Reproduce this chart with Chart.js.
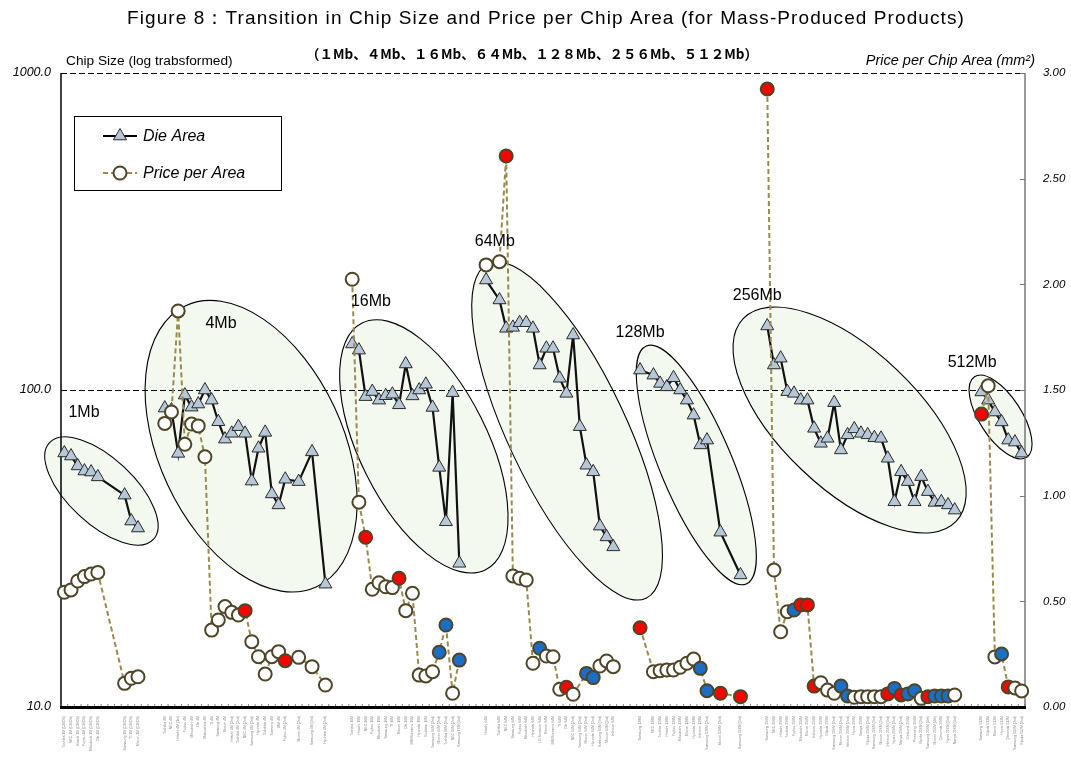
<!DOCTYPE html>
<html><head><meta charset="utf-8">
<script src="https://cdn.jsdelivr.net/npm/chart.js@4.4.0/dist/chart.umd.min.js"></script>
<style>html,body{margin:0;padding:0;background:#fff;}#wrap{width:1071px;height:769px;}</style>
</head><body><div id="wrap"><canvas id="c" width="1071" height="769"></canvas></div>
<script>
// ---------------- DATA ----------------
const categories = [
 // 1Mb (0-11)
 'Toshiba 1M (CMOS)','NEC 1M (CMOS)','Hitachi 1M (CMOS)','Fujitsu 1M (CMOS)','Mitsubishi 1M (CMOS)','Oki 1M (CMOS)','','','','Samsung 1M (CMOS)','TI 1M (CMOS)','Micron 1M (CMOS)',
 '','','',
 // 4Mb (15-39)
 'Toshiba 4M','NEC 4M','Hitachi 4M (1st)','Fujitsu 4M','Mitsubishi 4M','Oki 4M','Matsushita 4M','TI 4M','Samsung 4M','Micron 4M','Hitachi 4M (2nd)','Toshiba 4M (2nd)','NEC 4M (2nd)','Samsung 4M (2nd)','Hyundai 4M','Goldstar 4M','Siemens 4M','IBM 4M','Fujitsu 4M (2nd)','','Micron 4M (2nd)','','Samsung 4M (3rd)','','Hyundai 4M (2nd)',
 '','','',
 // 16Mb (43-59)
 'Toshiba 16M','Hitachi 16M','NEC 16M','Fujitsu 16M','Mitsubishi 16M','Samsung 16M','TI 16M','Micron 16M','Oki 16M','IBM/Siemens 16M','Hyundai 16M','Goldstar 16M','Samsung 16M (2nd)','Micron 16M (2nd)','Toshiba 16M (2nd)','NEC 16M (2nd)','Samsung 16M (3rd)',
 '','','',
 // 64Mb (63-82)
 'Hitachi 64M','','Toshiba 64M','NEC 64M','Samsung 64M','Fujitsu 64M','Mitsubishi 64M','Hyundai 64M','LG Semicon 64M','Micron 64M','IBM/Siemens 64M','TI 64M','Oki 64M','NEC 64M (2nd)','Samsung 64M (2nd)','Micron 64M (2nd)','Hyundai 64M (2nd)','Samsung 64M (3rd)','Micron 64M (3rd)','Infineon 64M',
 '','','',
 // 128Mb (86-101)
 'Samsung 128M','','NEC 128M','Toshiba 128M','Hitachi 128M','Fujitsu 128M','Mitsubishi 128M','Micron 128M','Hyundai 128M','Infineon 128M','Samsung 128M (2nd)','','Micron 128M (2nd)','','','Samsung 128M (3rd)',
 '','','',
 // 256Mb (105-133)
 'Samsung 256M','NEC 256M','Hitachi 256M','Toshiba 256M','Fujitsu 256M','Mitsubishi 256M','Micron 256M','Infineon 256M','Hyundai 256M','Elpida 256M','Samsung 256M (2nd)','Micron 256M (2nd)','Infineon 256M (2nd)','Hynix 256M','Nanya 256M','Elpida 256M (2nd)','Samsung 256M (3rd)','Micron 256M (3rd)','Infineon 256M (3rd)','Hynix 256M (2nd)','Nanya 256M (2nd)','Winbond 256M','Powerchip 256M','Elpida 256M (3rd)','Samsung 256M (4th)','Micron 256M (4th)','Qimonda 256M','Hynix 256M (3rd)','Nanya 256M (3rd)',
 '','','',
 // 512Mb (137-143)
 'Samsung 512M','Elpida 512M','Micron 512M','Hynix 512M','Qimonda 512M','Samsung 512M (2nd)','Elpida 512M (2nd)'
];

// Die area (mm2, log axis)
const dieArea = [
 63.3, 61.9, 57.6, 55.5, 55.1, 53.2, null, null, null, 46.6, 38.6, 36.7,
 null, null, null,
 87.7, 86.5, 63.1, 96.4, 88.3, 90.3, 100, 92.9, 79.4, 70.0, 73.0, 76.6, 73.0, 51.6, 65.5, 73.5, 47.0, 43.4, 52.3, null, 51.4, null, 63.8, null, 24.4,
 null, null, null,
 139.7, 133.6, 95.3, 98.9, 92.9, 95.9, 97.0, 89.8, 120.8, 95.8, 100, 104.2, 88.1, 57.0, 38.4, 98.1, 28.4,
 null, null, null,
 222.3, null, 192.3, 156.5, 157.6, 163.0, 163.0, 156.5, 119.9, 135.4, 135.4, 108.9, 97.6, 149.1, 76.6, 57.9, 55.2, 37.2, 34.4, 32.0,
 null, null, null,
 115.6, null, 111.4, 104.9, 102.3, 109.3, 100, 92.9, 83.3, 67.1, 69.5, null, 35.6, null, null, 26.1,
 null, null, null,
 159.2, 119.9, 126.0, 98.8, 97.6, 92.9, 92.9, 75.7, 67.9, 70.4, 91.2, 64.7, 72.2, 75.4, 73.0, 72.2, 70.7, 70.4, 60.9, 44.4, 55.2, 51.4, 44.4, 53.3, 47.8, 44.2, 44.4, 43.4, 41.8,
 null, null, null,
 98.6, 92.9, 85.2, 79.3, 69.5, 68.5, 63.2
];

// Price per chip area (right axis)
const pricePerArea = [
 0.543, 0.554, 0.596, 0.617, 0.629, 0.637, null, null, null, 0.112, 0.136, 0.143,
 null, null, null,
 1.342, 1.396, 1.874, 1.243, 1.339, 1.330, 1.184, 0.364, 0.412, 0.475, 0.448, 0.435, 0.456, 0.309, 0.238, 0.156, 0.238, 0.262, 0.219, null, 0.235, null, 0.191, null, 0.104,
 null, null, null,
 2.024, 0.969, 0.803, 0.557, 0.588, 0.569, 0.565, 0.609, 0.456, 0.538, 0.151, 0.147, 0.167, 0.259, 0.388, 0.065, 0.222,
 null, null, null,
 2.092, null, 2.107, 2.607, 0.620, 0.609, 0.601, 0.207, 0.278, 0.241, 0.238, 0.084, 0.093, 0.060, null, 0.159, 0.139, 0.194, 0.218, 0.191,
 null, null, null,
 0.375, null, 0.167, 0.172, 0.175, 0.175, 0.188, 0.207, 0.227, 0.183, 0.077, null, 0.065, null, null, 0.049,
 null, null, null,
 2.924, 0.648, 0.356, 0.451, 0.459, 0.483, 0.483, 0.099, 0.115, 0.080, 0.065, 0.099, 0.052, 0.046, 0.049, 0.049, 0.049, 0.049, 0.062, 0.088, 0.057, 0.062, 0.077, 0.041, 0.049, 0.052, 0.052, 0.052, 0.057,
 null, null, null,
 1.386, 1.520, 0.237, 0.251, 0.095, 0.090, 0.076
];

// highlighted price points (category indices)
const redPoints  = [27,33,45,50,66,75,86,98,101,105,110,111,112,123,125,129,137,141];
const bluePoints = [56,57,59,71,78,79,95,96,109,116,117,124,126,127,130,131,132,140];

// generations (category index ranges)
const generations = ['1Mb','4Mb','16Mb','64Mb','128Mb','256Mb','512Mb'];
const genFirst = [0,15,43,63,86,105,137];
const genLast  = [11,39,59,82,101,133,143];

const leftTicks = [10, 100, 1000];

// ---------------- ANNOTATION LAYOUT ----------------
const ellipseShapes = [ // centre in data coords, semi-axes px, rotation deg
 {ci:5.54, cv:48.0, a:71, b:33, rot:43},
 {ci:27.9, cv:66.5, a:155, b:92, rot:65},
 {ci:53.7, cv:66.4, a:138, b:64, rot:63.4},
 {ci:75.1, cv:74.3, a:185, b:59, rot:64.7},
 {ci:94.4, cv:58.0, a:129, b:36, rot:67.2},
 {ci:117.3, cv:80.4, a:147, b:69, rot:43.6},
 {ci:139.85, cv:82.2, a:48, b:21, rot:57.1}
];
const genLabelPos = [
 {i:2.94, v:84.6},{i:23.4, v:161.5},{i:45.8, v:189.5},{i:64.3, v:293},{i:86.0, v:151.3},{i:103.5, v:197.9},{i:135.6, v:121.7}
];

const FONT = '"Liberation Sans", Arial, sans-serif';
function genOf(i){ for(let g=0;g<genFirst.length;g++){ if(i>=genFirst[g]&&i<=genLast[g]) return g;} return -1; }
function sameGen(ctx){ return genOf(ctx.p0DataIndex)===genOf(ctx.p1DataIndex); }
function isGap(ctx){ return ctx.p1DataIndex-ctx.p0DataIndex>1; }

const decor = {
 id:'decor',
 beforeDatasetsDraw(chart){
  const {ctx, chartArea:ca, scales} = chart; const x=scales.x, y=scales.y;
  ctx.save();
  ellipseShapes.forEach(e=>{
   const cx=x.getPixelForValue(e.ci), cy=y.getPixelForValue(e.cv);
   ctx.beginPath(); ctx.ellipse(cx,cy,e.a,e.b,e.rot*Math.PI/180,0,Math.PI*2);
   ctx.fillStyle='#f3f9ee'; ctx.fill(); ctx.lineWidth=1.1; ctx.strokeStyle='#000'; ctx.stroke();
  });
  ctx.setLineDash([6,3]); ctx.lineWidth=1; ctx.strokeStyle='#000';
  [100,1000].forEach(v=>{ const py=Math.round(y.getPixelForValue(v))+0.5; ctx.beginPath(); ctx.moveTo(ca.left,py); ctx.lineTo(ca.right,py); ctx.stroke(); });
  ctx.setLineDash([]);
  ctx.strokeStyle='#000'; ctx.lineWidth=1.5;
  ctx.beginPath(); ctx.moveTo(ca.left,ca.top); ctx.lineTo(ca.left,ca.bottom); ctx.stroke();
  ctx.strokeStyle='#777'; ctx.lineWidth=1.5;
  ctx.beginPath(); ctx.moveTo(ca.right,ca.top); ctx.lineTo(ca.right,ca.bottom); ctx.stroke();
  const y2=scales.y2;
  ctx.lineWidth=1;
  for(let v=0; v<=3.0001; v+=0.5){ const py=Math.round(y2.getPixelForValue(v))+0.5; ctx.beginPath(); ctx.moveTo(ca.right-5,py); ctx.lineTo(ca.right,py); ctx.stroke(); }
  ctx.strokeStyle='#666'; ctx.lineWidth=0.8;
  const n=categories.length;
  for(let i=0;i<=n;i++){ const px=x.getPixelForValue(i-0.5); ctx.beginPath(); ctx.moveTo(px,ca.bottom-3); ctx.lineTo(px,ca.bottom); ctx.stroke(); }
  ctx.strokeStyle='#000'; ctx.lineWidth=3;
  ctx.beginPath(); ctx.moveTo(ca.left-1,ca.bottom+0.5); ctx.lineTo(ca.right+1,ca.bottom+0.5); ctx.stroke();
  ctx.restore();
 },
 afterDatasetsDraw(chart){
  const {ctx, chartArea:ca, scales} = chart; const x=scales.x, y=scales.y;
  ctx.save();
  ctx.fillStyle='#000'; ctx.font='16px '+FONT; ctx.textAlign='center'; ctx.textBaseline='middle';
  genLabelPos.forEach((p,g)=>{ ctx.fillText(generations[g], x.getPixelForValue(p.i), y.getPixelForValue(p.v)); });
  const lx=ca.left+13, ly=ca.top+43;
  ctx.fillStyle='#fff'; ctx.fillRect(lx,ly,207,74);
  ctx.strokeStyle='#000'; ctx.lineWidth=1; ctx.strokeRect(lx+0.5,ly+0.5,207,74);
  ctx.lineWidth=2; ctx.beginPath(); ctx.moveTo(lx+29,ly+20); ctx.lineTo(lx+63,ly+20); ctx.stroke();
  const tx=lx+46, ty=ly+20, r=7.5;
  ctx.beginPath(); ctx.moveTo(tx,ty-r); ctx.lineTo(tx+r*0.866,ty+r*0.5); ctx.lineTo(tx-r*0.866,ty+r*0.5); ctx.closePath();
  ctx.fillStyle='#b6c7d8'; ctx.fill(); ctx.lineWidth=1; ctx.strokeStyle='#2a2a2a'; ctx.stroke();
  ctx.strokeStyle='#9b8a4e'; ctx.lineWidth=2; ctx.setLineDash([5,3]);
  ctx.beginPath(); ctx.moveTo(lx+29,ly+57); ctx.lineTo(lx+63,ly+57); ctx.stroke(); ctx.setLineDash([]);
  ctx.beginPath(); ctx.arc(lx+46,ly+57,6.5,0,Math.PI*2); ctx.fillStyle='#fff'; ctx.fill(); ctx.lineWidth=2; ctx.strokeStyle='#4f4528'; ctx.stroke();
  ctx.fillStyle='#000'; ctx.font='italic 16px '+FONT; ctx.textAlign='left'; ctx.textBaseline='middle';
  ctx.fillText('Die Area', lx+69, ly+21);
  ctx.fillText('Price per Area', lx+69, ly+58);
  ctx.restore();
 },
 afterDraw(chart){
  const ctx=chart.ctx; ctx.save(); ctx.fillStyle='#000'; ctx.textBaseline='middle';
  ctx.font='19px '+FONT; ctx.textAlign='center';
  const title='Figure 8：Transition in Chip Size and Price per Chip Area (for Mass-Produced Products)';
  const w=ctx.measureText(title).width;
  if('letterSpacing' in ctx){ ctx.letterSpacing=Math.max(0,(838-w)/title.length)+'px'; }
  ctx.fillText(title, 546, 19);
  if('letterSpacing' in ctx) ctx.letterSpacing='0px';
  ctx.font='bold 13.5px "Noto Sans CJK JP", '+FONT;
  ctx.fillText('（１Mb、４Mb、１６Mb、６４Mb、１２８Mb、２５６Mb、５１２Mb）', 532, 54);
  ctx.font='13.7px '+FONT; ctx.textAlign='left';
  ctx.fillText('Chip Size (log trabsformed)', 66, 61);
  ctx.font='italic 14.5px '+FONT; ctx.textAlign='right';
  ctx.fillText('Price per Chip Area (mm²)', 1035, 61);
  ctx.restore();
 }
};

const priceColor = i => redPoints.includes(i) ? '#ff0000' : (bluePoints.includes(i) ? '#1a6fc4' : '#ffffff');

new Chart(document.getElementById('c'), {
 type:'line',
 data:{
  labels: categories,
  datasets:[
   { label:'Price per Area', data: pricePerArea, yAxisID:'y2', spanGaps:true,
     borderColor:'#9b8a4e', borderWidth:2, borderDash:[5,3],
     pointStyle:'circle', pointRadius:6.5, pointBorderWidth:2, pointBorderColor:'#4f4528',
     pointBackgroundColor: ctx => priceColor(ctx.dataIndex),
     segment:{
      borderColor: ctx => sameGen(ctx) ? '#9b8a4e' : 'rgba(0,0,0,0)',
      borderWidth: ctx => isGap(ctx) ? 1 : 2,
      borderDash: ctx => isGap(ctx) ? [2,2] : [5,3]
     }
   },
   { label:'Die Area', data: dieArea, yAxisID:'y', spanGaps:true,
     borderColor:'#111', borderWidth:2.2,
     pointStyle:'triangle', pointRadius:7.5, pointBackgroundColor:'#b6c7d8', pointBorderColor:'#2a2a2a', pointBorderWidth:1,
     segment:{
      borderColor: ctx => sameGen(ctx) ? '#111' : 'rgba(0,0,0,0)',
      borderWidth: ctx => isGap(ctx) ? 0.8 : 2.2
     }
   }
  ]
 },
 options:{
  responsive:false, animation:false,
  layout:{padding:{top:73,left:0,right:0,bottom:0}},
  plugins:{legend:{display:false}, tooltip:{enabled:false}, title:{display:false}},
  scales:{
   x:{ type:'category', offset:true, grid:{display:false, drawTicks:false}, border:{display:false},
       ticks:{autoSkip:false, maxRotation:90, minRotation:90, padding:9, color:'#888', font:{size:3.5, family:FONT}},
       afterFit(s){ s.height=62; } },
   y:{ type:'logarithmic', position:'left', min:10, max:1000,
       grid:{display:false, drawTicks:false}, border:{display:false},
       afterBuildTicks(s){ s.ticks = leftTicks.map(v=>({value:v})); },
       ticks:{ padding:10, color:'#000', font:{size:12.5, style:'italic', family:FONT}, callback:v=>Number(v).toFixed(1) },
       afterFit(s){ s.width=61; } },
   y2:{ type:'linear', position:'right', min:0, max:3,
       grid:{display:false, drawTicks:false}, border:{display:false},
       ticks:{ stepSize:0.5, padding:18, color:'#000', font:{size:11.5, style:'italic', family:FONT}, callback:v=>Number(v).toFixed(2) },
       afterFit(s){ s.width=46; } }
  }
 },
 plugins:[decor]
});
</script></body></html>
